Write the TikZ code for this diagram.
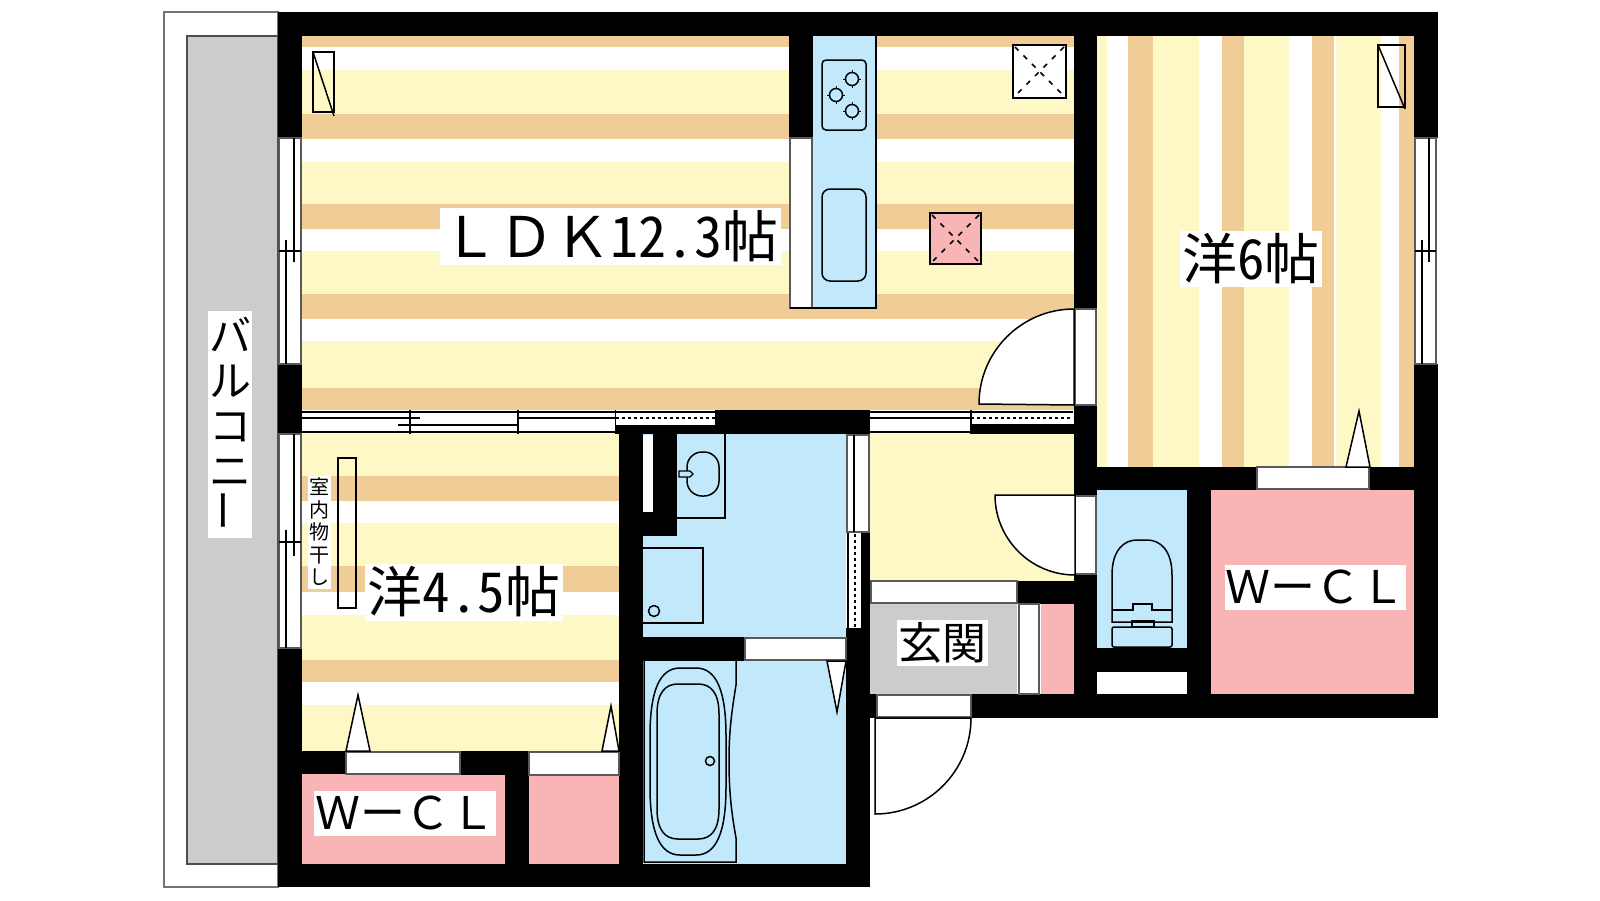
\documentclass[tikz,border=0pt]{standalone}
\usepackage{fontspec}
\setmainfont{Noto Sans CJK JP}
\newfontfamily\hwfont[RawFeature=+hwid]{Noto Sans CJK JP}
\tikzset{
	wall/.style={fill=black},
	yellowfloor/.style={fill=floorY},
	orangefloor/.style={fill=floorO},
	pinkfloor/.style={fill=floorP},
	bluefloor/.style={fill=floorB},
	fixture/.style={draw=black, line width=1.5pt},
	ventcross/.style={draw=black, line width=1.5pt, dash pattern=on 5pt off 7pt},
	opening/.style={fill=white, draw=black!65, line width=1.2pt},
	slidingline/.style={draw=black, line width=1.2pt},
	roomlabel/.style={fill=white, inner sep=0pt, text=black, align=center},
}
\definecolor{floorY}{HTML}{FEF8C6}
\definecolor{floorO}{HTML}{F0CC96}
\definecolor{floorP}{HTML}{F9B4B5}
\definecolor{floorB}{HTML}{C2E9FB}
\definecolor{floorG}{HTML}{CCCCCC}
\begin{document}
\begin{tikzpicture}[x=1pt, y=-1pt]

	\useasboundingbox (0,0) rectangle (1600,900);
	\fill[white] (0,0) rectangle (1600,900);

	\draw[draw=black!55, line width=1.2pt] (164,12) rectangle (278,887);
	\filldraw[fill=floorG, draw=black!70, line width=1.2pt] (187,36) rectangle (278,864);

	\foreach \ya/\yb in {36/47, 114/139, 204/229, 294/319, 388/410} {
		\fill[orangefloor] (302,\ya) rectangle (1074,\yb);
	}
	\foreach \ya/\yb in {70/114, 162/204, 251/294, 341/388} {
		\fill[yellowfloor] (302,\ya) rectangle (1074,\yb);
	}

	\foreach \ya/\yb in {434/476, 523/566, 615/660, 705/751} {
		\fill[yellowfloor] (302,\ya) rectangle (619,\yb);
	}
	\foreach \ya/\yb in {476/501, 566/592, 660/682} {
		\fill[orangefloor] (302,\ya) rectangle (619,\yb);
	}

	\foreach \xa/\xb in {1097/1107, 1153/1199, 1244/1289, 1336/1381} {
		\fill[yellowfloor] (\xa,36) rectangle (\xb,467);
	}
	\foreach \xa/\xb in {1128/1153, 1222/1244, 1312/1334, 1399/1414} {
		\fill[orangefloor] (\xa,36) rectangle (\xb,467);
	}

	\fill[yellowfloor] (870,434) rectangle (1074,581);
	\fill[floorG] (870,604) rectangle (1017,694);
	\fill[pinkfloor] (302,774) rectangle (505,864);
	\fill[pinkfloor] (529,775) rectangle (619,864);
	\fill[pinkfloor] (1041,604) rectangle (1074,694);
	\fill[pinkfloor] (1211,490) rectangle (1414,694);
	\fill[bluefloor] (643,434) rectangle (846,637);
	\fill[bluefloor] (644,661) rectangle (846,864);
	\fill[bluefloor] (1097,490) rectangle (1187,648);
	\fill[bluefloor] (813,36) rectangle (876,308);

	\fill[wall] (278,12) rectangle (1438,36);
	\fill[wall] (278,12) rectangle (302,138);
	\fill[wall] (278,364) rectangle (302,434);
	\fill[wall] (278,648) rectangle (302,887);
	\fill[wall] (278,864) rectangle (870,887);
	\fill[wall] (789,36) rectangle (813,138);
	\fill[wall] (1074,36) rectangle (1097,309);
	\fill[wall] (1074,405) rectangle (1097,496);
	\fill[wall] (1074,574) rectangle (1097,718);
	\fill[wall] (1414,12) rectangle (1438,138);
	\fill[wall] (1414,364) rectangle (1438,718);
	\fill[wall] (715,410) rectangle (870,434);
	\fill[wall] (616,425) rectangle (715,434);
	\fill[wall] (971,424) rectangle (1074,434);
	\fill[wall] (1074,405) rectangle (1097,434);
	\fill[wall] (302,751) rectangle (346,774);
	\fill[wall] (460,751) rectangle (529,775);
	\fill[wall] (505,775) rectangle (529,864);
	\fill[wall] (619,434) rectangle (643,864);
	\fill[wall] (653,434) rectangle (677,536);
	\fill[wall] (643,512) rectangle (677,536);
	\fill[wall] (643,637) rectangle (745,661);
	\fill[wall] (846,628) rectangle (870,887);
	\fill[wall] (861,533) rectangle (870,628);
	\fill[wall] (870,694) rectangle (1438,718);
	\fill[wall] (1017,581) rectangle (1074,604);
	\fill[wall] (1097,467) rectangle (1257,490);
	\fill[wall] (1369,467) rectangle (1438,490);
	\fill[wall] (1187,490) rectangle (1211,694);
	\fill[wall] (1097,648) rectangle (1187,672);

	\filldraw[opening] (279,138) rectangle (301,364);
	\draw[slidingline] (294,138) -- (294,262);
	\draw[slidingline] (286,240) -- (286,364);
	\draw[slidingline] (279,251) -- (301,251);

	\filldraw[opening] (279,434) rectangle (301,648);
	\draw[slidingline] (294,434) -- (294,556);
	\draw[slidingline] (286,530) -- (286,648);
	\draw[slidingline] (279,542) -- (301,542);

	\filldraw[opening] (1415,138) rectangle (1436,364);
	\draw[slidingline] (1429,138) -- (1429,262);
	\draw[slidingline] (1422,240) -- (1422,364);
	\draw[slidingline] (1415,251) -- (1436,251);

	\fill[white] (302,410) rectangle (616,434);
	\draw[slidingline] (302,412) -- (616,412);
	\draw[slidingline] (302,432) -- (616,432);
	\draw[slidingline] (302,418) -- (420,418);
	\draw[slidingline] (398,425) -- (518,425);
	\draw[slidingline] (518,418) -- (616,418);
	\draw[slidingline] (410,410) -- (410,434);
	\draw[slidingline] (518,410) -- (518,434);
	\draw[slidingline] (616,410) -- (616,434);
	\fill[white] (616,410) rectangle (715,425);
	\draw[slidingline] (616,412) -- (715,412);
	\draw[slidingline, dashed] (616,418) -- (715,418);

	\fill[white] (870,410) rectangle (971,434);
	\draw[slidingline] (870,412) -- (1073,412);
	\draw[slidingline] (870,418) -- (971,418);
	\draw[slidingline] (870,432) -- (971,432);
	\draw[slidingline] (971,410) -- (971,434);
	\fill[white] (972,413) rectangle (1073,424);
	\draw[slidingline, dashed] (971,418) -- (1073,418);

	\fill[white] (643,435) rectangle (653,512);

	\filldraw[opening] (847,435) rectangle (869,532);
	\draw[slidingline] (854,435) -- (854,532);
	\fill[white] (848,533) rectangle (861,628);
	\draw[slidingline] (848,533) -- (848,628);
	\draw[slidingline, dashed] (855,534) -- (855,628);

	\filldraw[opening] (1257,467) rectangle (1369,489);
	\filldraw[opening] (346,752) rectangle (460,774);
	\filldraw[opening] (529,752) rectangle (619,775);
	\filldraw[opening] (745,638) rectangle (846,660);
	\filldraw[opening] (871,581) rectangle (1017,603);
	\filldraw[opening] (1019,604) rectangle (1039,694);
	\filldraw[opening] (877,695) rectangle (971,717);
	\filldraw[opening] (1075,309) rectangle (1096,405);
	\filldraw[opening] (1075,496) rectangle (1096,574);
	\filldraw[opening] (790,138) rectangle (812,308);
	\fill[white] (1097,672) rectangle (1187,694);

	\filldraw[fill=white, draw=black, line width=1.5pt] (358,695) -- (346,751) -- (370,751) -- cycle;
	\filldraw[fill=white, draw=black, line width=1.5pt] (611,706) -- (602,751) -- (619,751) -- cycle;
	\filldraw[fill=white, draw=black, line width=1.5pt] (1359,411) -- (1346,467) -- (1370,467) -- cycle;
	\filldraw[fill=white, draw=black, line width=1.5pt] (827,661) -- (846,661) -- (837,712) -- cycle;

	\filldraw[fill=white, fixture] (1074,405) -- (1074,309) arc[start angle=90, end angle=180, radius=95pt] -- cycle;
	\filldraw[fill=white, fixture] (1075,495) -- (995,495) arc[start angle=180, end angle=270, radius=80pt] -- cycle;
	\filldraw[fill=white, fixture] (875,718) -- (971,718) arc[start angle=0, end angle=-90, radius=96pt] -- cycle;

	\draw[fixture] (790,308) -- (876,308) -- (876,36);
	\draw[fixture, rounded corners=4pt] (822,60) rectangle (866,130);
	\draw[fixture, rounded corners=8pt] (822,189) rectangle (866,281);
	\foreach \bx/\by in {852/79, 836/95, 852/111} {
		\draw[fixture] (\bx,\by) circle (6.5pt);
		\draw[fixture, line width=1pt] (\bx-9,\by) -- (\bx-6,\by) (\bx+6,\by) -- (\bx+9,\by) (\bx,\by-9) -- (\bx,\by-6) (\bx,\by+6) -- (\bx,\by+9);
	}

	\draw[fixture] (313,52) rectangle (334,112);
	\draw[fixture] (313,52) -- (334,116);
	\draw[fixture] (1378,45) rectangle (1405,107);
	\draw[fixture] (1378,45) -- (1405,109);
	\draw[fixture] (338,458) rectangle (356,608);

	\filldraw[fill=white, fixture] (1013,45) rectangle (1066,98);
	\draw[ventcross] (1015,47) -- (1064,96) (1064,47) -- (1015,96);
	\filldraw[fill=floorP, fixture] (930,213) rectangle (981,264);
	\draw[ventcross] (932,215) -- (979,262) (979,215) -- (932,262);

	\draw[fixture] (677,518) -- (725,518) -- (725,434);
	\draw[fixture, rounded corners=15pt] (687,452) rectangle (719,496);
	\draw[fixture, fill=floorB, line width=1.2pt] (679,471) -- (690,471) -- (693,474) -- (690,477) -- (679,477) -- cycle;
	\draw[fixture] (643,548) -- (703,548) -- (703,623) -- (643,623);
	\draw[fixture] (654,611) circle (5.5pt);

	\draw[fixture] (644,661) -- (644,862) -- (736,862) -- (736,838) .. controls (731,810) and (729,790) .. (729,760) .. controls (729,730) and (732,710) .. (736,685) -- (736,661);
	\draw[fixture] (650,736) .. controls (650,690) and (660,668) .. (680,668) -- (696,668) .. controls (716,668) and (726,690) .. (726,736) -- (726,787) .. controls (726,833) and (716,855) .. (696,855) -- (680,855) .. controls (660,855) and (650,833) .. (650,787) -- cycle;
	\draw[fixture] (657,714) .. controls (657,693) and (665,684) .. (678,684) -- (698,684) .. controls (711,684) and (719,693) .. (719,714) -- (719,809) .. controls (719,830) and (711,839) .. (698,839) -- (678,839) .. controls (665,839) and (657,830) .. (657,809) -- cycle;
	\draw[fixture] (710,761) circle (4.5pt);

	\draw[fixture] (1112,610) -- (1112,575) .. controls (1112,550) and (1124,540) .. (1137,540) -- (1147,540) .. controls (1160,540) and (1172,550) .. (1172,575) -- (1172,622) -- (1112,622) -- cycle;
	\draw[fixture] (1112,610) -- (1133,610) -- (1133,604) -- (1152,604) -- (1152,610) -- (1172,610);
	\draw[fixture] (1132,621) rectangle (1154,627);
	\draw[fixture, rounded corners=2pt] (1112,627) rectangle (1172,647);

	\node[roomlabel, minimum width=341pt, minimum height=57pt, font=\fontsize{56}{58}\selectfont] (ldkLabel) at (610,236) {ＬＤＫ{\hwfont 12.3}帖};
	\node[roomlabel, minimum width=198pt, minimum height=57pt, font=\fontsize{55}{57}\selectfont] (room45Label) at (464,592) {洋{\hwfont 4.5}帖};
	\node[roomlabel, minimum width=142pt, minimum height=56pt, font=\fontsize{55}{57}\selectfont] (room6Label) at (1251,259) {洋{\hwfont 6}帖};
	\node[roomlabel, minimum width=182pt, minimum height=45pt, font=\fontsize{45}{49}\selectfont] (wclLeftLabel) at (405,813) {Ｗ\raisebox{0pt}{ー}ＣＬ};
	\node[roomlabel, minimum width=181pt, minimum height=45pt, font=\fontsize{45}{49}\selectfont] (wclRightLabel) at (1315,587) {Ｗ\raisebox{0pt}{ー}ＣＬ};
	\node[roomlabel, minimum width=91pt, minimum height=46pt, font=\fontsize{44}{48}\selectfont] (genkanLabel) at (942,643) {玄関};
	\node[roomlabel, minimum width=23pt, minimum height=113pt, font=\fontsize{20}{22.5}\selectfont] (hoshiLabel) at (319,532) {室\\内\\物\\干\\し};
	\node[roomlabel, minimum width=44pt, minimum height=227pt, font=\fontsize{42}{45}\selectfont] (balconyLabel) at (230,424) {バ\\ル\\コ\\ニ\\\rotatebox{90}{ー}};

\end{tikzpicture}
\end{document}
